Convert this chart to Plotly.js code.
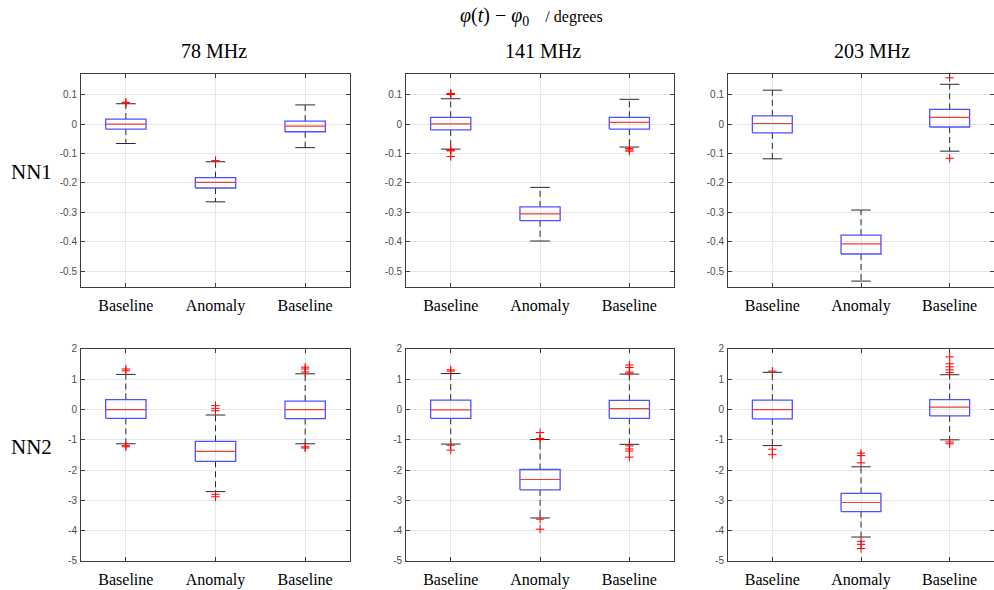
<!DOCTYPE html>
<html>
<head>
<meta charset="utf-8">
<script src="https://cdn.plot.ly/plotly-3.0.1.min.js"></script>
<style>html,body{margin:0;padding:0;background:#fff;}#chart{width:994px;height:590px;}</style>
</head>
<body>
<div id="chart"></div>
<script>
// ---- data ----
const positions = [1, 2, 3];
const tickLabels = ['Baseline', 'Anomaly', 'Baseline'];
const rowLabels = ['NN1', 'NN2'];
const columnLabels = ['78 MHz', '141 MHz', '203 MHz'];
// panel order: NN1-78, NN1-141, NN1-203, NN2-78, NN2-141, NN2-203
const q1 = [
  [-0.017, -0.217, -0.026],
  [-0.020, -0.328, -0.017],
  [-0.030, -0.441, -0.010],
  [-0.29, -1.71, -0.30],
  [-0.29, -2.65, -0.29],
  [-0.31, -3.37, -0.21]
];
const median = [
  [0.000, -0.198, -0.007],
  [0.001, -0.305, 0.006],
  [0.002, -0.407, 0.023],
  [0.00, -1.38, 0.00],
  [-0.01, -2.31, 0.03],
  [0.00, -3.07, 0.08]
];
const q3 = [
  [0.017, -0.182, 0.010],
  [0.023, -0.281, 0.023],
  [0.028, -0.377, 0.050],
  [0.33, -1.05, 0.28],
  [0.31, -1.98, 0.30],
  [0.31, -2.77, 0.33]
];
const lowerWhisker = [
  [-0.066, -0.264, -0.080],
  [-0.085, -0.397, -0.078],
  [-0.118, -0.533, -0.092],
  [-1.13, -2.71, -1.13],
  [-1.14, -3.58, -1.15],
  [-1.19, -4.21, -1.00]
];
const upperWhisker = [
  [0.069, -0.128, 0.065],
  [0.086, -0.215, 0.084],
  [0.115, -0.292, 0.135],
  [1.16, -0.18, 1.18],
  [1.19, -0.99, 1.17],
  [1.23, -1.89, 1.15]
];
const outlierBox = [
  [1, 1, 2],
  [1, 1, 1, 1, 1, 1, 1, 3, 3, 3],
  [3, 3],
  [1, 1, 1, 1, 2, 2, 2, 2, 2, 3, 3, 3, 3, 3],
  [1, 1, 1, 1, 2, 2, 2, 2, 2, 3, 3, 3, 3, 3, 3, 3, 3],
  [1, 1, 1, 2, 2, 2, 2, 2, 2, 3, 3, 3, 3, 3, 3, 3]
];
const outlierValue = [
  [0.072, 0.074, -0.124],
  [0.100, 0.102, 0.104, -0.087, -0.089, -0.091, -0.110, -0.083, -0.088, -0.092],
  [0.157, -0.116],
  [1.28, 1.34, -1.19, -1.23, 0.13, 0.04, -0.04, -2.80, -2.88, 1.24, 1.34, 1.40, -1.23, -1.27],
  [1.27, 1.31, -1.18, -1.34, -0.76, -0.96, -0.98, -3.62, -3.95, 1.20, 1.24, 1.39, 1.47, -1.20, -1.30, -1.37, -1.57],
  [1.27, -1.31, -1.49, -1.44, -1.52, -1.76, -4.35, -4.45, -4.59, 1.22, 1.31, 1.41, 1.51, 1.74, -1.07, -1.13]
];
const topTicks = [-0.5, -0.4, -0.3, -0.2, -0.1, 0, 0.1];
const topTickText = ['-0.5', '-0.4', '-0.3', '-0.2', '-0.1', '0', '0.1'];
const bottomTicks = [-5, -4, -3, -2, -1, 0, 1, 2];
const bottomTickText = ['-5', '-4', '-3', '-2', '-1', '0', '1', '2'];

// ---- styling / layout ----
const HW = 0.225, CW = 0.11;
const xDomains = [[0.0815, 0.3521], [0.4085, 0.6781], [0.7324, 1.0]];
const yDomains = [[0.5136, 0.8746], [0.0492, 0.4085]];
const axisColor = '#3c3c3c';
const traces = [];
const layout = {
  width: 994, height: 590,
  margin: {l: 0, r: 0, t: 0, b: 0},
  paper_bgcolor: '#fff', plot_bgcolor: '#fff',
  showlegend: false, hovermode: false,
  annotations: []
};

for (let k = 0; k < 6; k++) {
  const row = Math.floor(k / 3), col = k % 3;
  const sfx = k === 0 ? '' : String(k + 1);
  const xa = 'x' + sfx, ya = 'y' + sfx;
  const wx = [], wy = [], cx = [], cy = [], bx = [], by = [], mx = [], my = [];
  positions.forEach((p, i) => {
    wx.push(p, p, null, p, p, null);
    wy.push(q3[k][i], upperWhisker[k][i], null, q1[k][i], lowerWhisker[k][i], null);
    cx.push(p - CW, p + CW, null, p - CW, p + CW, null);
    cy.push(upperWhisker[k][i], upperWhisker[k][i], null, lowerWhisker[k][i], lowerWhisker[k][i], null);
    bx.push(p - HW, p + HW, p + HW, p - HW, p - HW, null);
    by.push(q1[k][i], q1[k][i], q3[k][i], q3[k][i], q1[k][i], null);
    mx.push(p - HW, p + HW, null);
    my.push(median[k][i], median[k][i], null);
  });
  traces.push({type: 'scatter', mode: 'lines', x: wx, y: wy, xaxis: xa, yaxis: ya,
    line: {color: '#2a2a2a', width: 1, dash: '6px,4px'}});
  traces.push({type: 'scatter', mode: 'lines', x: cx, y: cy, xaxis: xa, yaxis: ya,
    line: {color: '#2a2a2a', width: 1}});
  traces.push({type: 'scatter', mode: 'lines', x: bx, y: by, xaxis: xa, yaxis: ya,
    line: {color: 'rgb(80,80,255)', width: 1.3}});
  traces.push({type: 'scatter', mode: 'lines', x: mx, y: my, xaxis: xa, yaxis: ya,
    line: {color: 'rgb(240,60,60)', width: 1.2}});
  traces.push({type: 'scatter', mode: 'markers',
    x: outlierBox[k].map(b => positions[b - 1]), y: outlierValue[k], xaxis: xa, yaxis: ya,
    marker: {symbol: 'cross-thin', size: 6, line: {color: 'rgb(255,0,0)', width: 1}}});

  const common = {
    showline: true, mirror: 'ticks', linecolor: axisColor, linewidth: 1,
    ticks: 'inside', ticklen: 4, tickcolor: axisColor, tickwidth: 1,
    showgrid: true, gridcolor: '#e6e6e6', gridwidth: 1, zeroline: false,
    fixedrange: true
  };
  layout['xaxis' + sfx] = Object.assign({}, common, {
    domain: xDomains[col], anchor: ya, range: [0.5, 3.5],
    tickmode: 'array', tickvals: positions, ticktext: tickLabels,
    tickfont: {family: 'Liberation Serif, Times New Roman, serif', size: 16, color: '#000'},
    ticklabelstandoff: 4
  });
  layout['yaxis' + sfx] = Object.assign({}, common, {
    domain: yDomains[row], anchor: xa,
    range: row === 0 ? [-0.553, 0.17] : [-5, 2],
    tickmode: 'array',
    tickvals: row === 0 ? topTicks : bottomTicks,
    ticktext: row === 0 ? topTickText : bottomTickText,
    tickfont: {family: 'Liberation Sans, Arial, sans-serif', size: 10, color: '#4d4d4d'},
    ticklabelstandoff: 1
  });
}

const serif = 'Liberation Serif, Times New Roman, serif';
layout.annotations.push({
  xref: 'paper', yref: 'paper', x: 531 / 994, y: 1 - 17 / 590,
  xanchor: 'center', yanchor: 'middle', showarrow: false,
  text: '<span style="font-size:20px"><i>φ</i>(<i>t</i>) − <i>φ</i><sub>0</sub></span>    / degrees',
  font: {family: serif, size: 16, color: '#000'}
});
const colCenters = [214, 543, 872];
columnLabels.forEach((t, i) => layout.annotations.push({
  xref: 'paper', yref: 'paper', x: colCenters[i] / 994, y: 1 - 51 / 590,
  xanchor: 'center', yanchor: 'middle', showarrow: false, text: t,
  font: {family: serif, size: 20, color: '#000'}
}));
const rowCenters = [172, 447];
rowLabels.forEach((t, i) => layout.annotations.push({
  xref: 'paper', yref: 'paper', x: 31 / 994, y: 1 - rowCenters[i] / 590,
  xanchor: 'center', yanchor: 'middle', showarrow: false, text: t,
  font: {family: serif, size: 21, color: '#000'}
}));

Plotly.newPlot('chart', traces, layout, {staticPlot: true, displayModeBar: false});
</script>
</body>
</html>
